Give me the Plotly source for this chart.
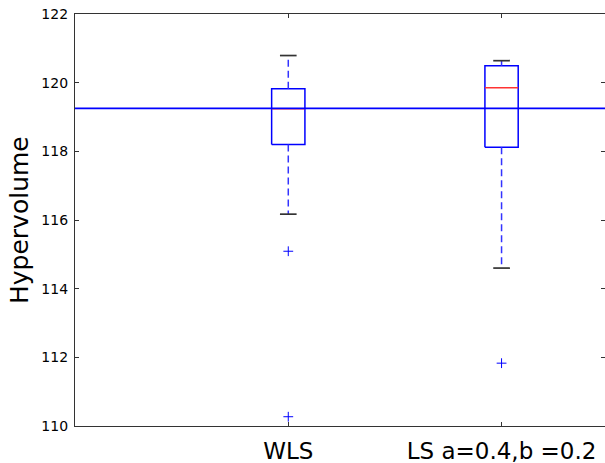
import plotly.graph_objects as go

# ---- data ----
categories = ["WLS", "LS a=0.4,b =0.2"]
positions = [1, 2]
q1 = [118.20, 118.12]
median = [119.24, 119.85]
q3 = [119.82, 120.49]
whisker_low = [116.17, 114.60]
whisker_high = [120.79, 120.64]
outliers = [[115.09, 110.27], [111.83]]
reference_value = 119.25
y_ticks = [110, 112, 114, 116, 118, 120, 122]

BLUE = "#0000ff"
BOX_HALF = 0.078
CAP_HALF = 0.039

fig = go.Figure()

for i, p in enumerate(positions):
    # box outline
    fig.add_trace(go.Scatter(
        x=[p - BOX_HALF, p + BOX_HALF, p + BOX_HALF, p - BOX_HALF, p - BOX_HALF],
        y=[q1[i], q1[i], q3[i], q3[i], q1[i]],
        mode="lines", line=dict(color=BLUE, width=1.5), hoverinfo="skip"))
    # whiskers (dashed)
    fig.add_trace(go.Scatter(
        x=[p, p], y=[q3[i], whisker_high[i]], mode="lines",
        line=dict(color="#3333ff", width=1.5, dash="7px,4px"), hoverinfo="skip"))
    fig.add_trace(go.Scatter(
        x=[p, p], y=[q1[i], whisker_low[i]], mode="lines",
        line=dict(color="#3333ff", width=1.5, dash="7px,4px"), hoverinfo="skip"))
    # caps
    for w in (whisker_low[i], whisker_high[i]):
        fig.add_trace(go.Scatter(
            x=[p - CAP_HALF, p + CAP_HALF], y=[w, w], mode="lines",
            line=dict(color="#333333", width=1.7), hoverinfo="skip"))
    # median
    fig.add_trace(go.Scatter(
        x=[p - BOX_HALF, p + BOX_HALF], y=[median[i], median[i]], mode="lines",
        line=dict(color="#ff3333", width=1.5), hoverinfo="skip"))
    # fliers
    fig.add_trace(go.Scatter(
        x=[p] * len(outliers[i]), y=outliers[i], mode="markers",
        marker=dict(symbol="cross-thin", size=7, line=dict(color=BLUE, width=1)),
        hoverinfo="skip"))

# horizontal reference line
fig.add_hline(y=reference_value, line=dict(color=BLUE, width=1.6))

fig.update_layout(
    width=605, height=463,
    margin=dict(l=75, r=0, t=14, b=37),
    paper_bgcolor="white", plot_bgcolor="white",
    showlegend=False,
    font=dict(family="DejaVu Sans", color="black"),
    annotations=[dict(
        text="Hypervolume", xref="paper", yref="paper",
        x=(19 - 75) / 530, y=0.5, textangle=-90, showarrow=False,
        font=dict(size=25, family="DejaVu Sans", color="black"),
        xanchor="center", yanchor="middle")],
)
fig.update_xaxes(
    range=[0, 2.485], tickvals=positions, ticktext=categories,
    ticks="inside", ticklen=4, tickcolor="#333333", tickwidth=1,
    showline=True, linecolor="#333333", linewidth=1.2, mirror="ticks",
    showgrid=False, zeroline=False,
    tickfont=dict(size=23, family="DejaVu Sans", color="black"),
    ticklabelstandoff=4,
)
fig.update_yaxes(
    range=[110, 122], tickvals=y_ticks, ticktext=[str(t) for t in y_ticks],
    ticks="inside", ticklen=4, tickcolor="#333333", tickwidth=1,
    showline=True, linecolor="#333333", linewidth=1.2, mirror="ticks",
    showgrid=False, zeroline=False,
    tickfont=dict(size=14, family="DejaVu Sans", color="black"),
    ticklabelstandoff=3,
)

fig.write_html("out.html")
